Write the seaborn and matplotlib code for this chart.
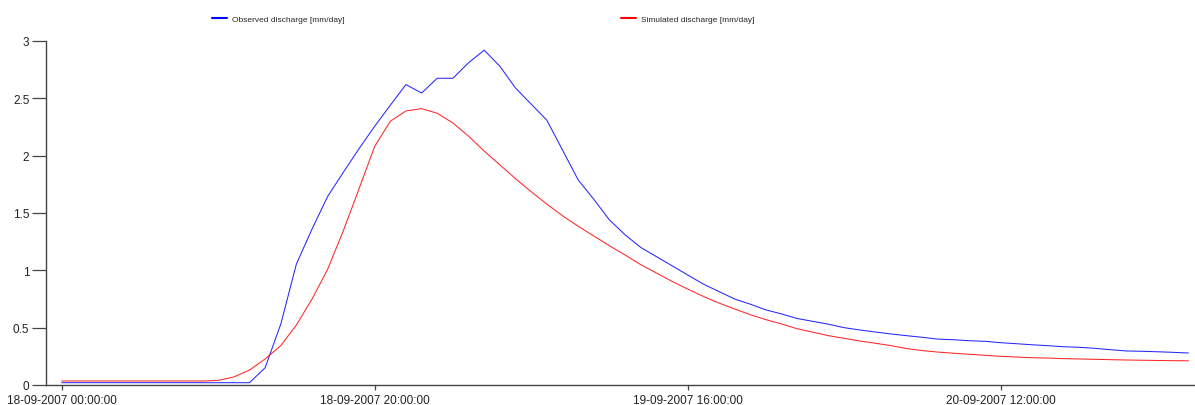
import numpy as np
import pandas as pd
import matplotlib
matplotlib.use("Agg")
import matplotlib.pyplot as plt
import matplotlib.dates as mdates
import seaborn as sns

# ---- data (hourly, 18-09-2007 00:00 .. 21-09-2007 00:00) ----
start_time = "2007-09-18 00:00:00"
observed = [0.02] * 13 + [
    0.15, 0.53, 1.055, 1.36, 1.645, 1.855, 2.06, 2.256, 2.44, 2.62,
    2.546, 2.675, 2.675, 2.81, 2.92, 2.78, 2.59, 2.45, 2.31, 2.05,
    1.79, 1.62, 1.44, 1.31, 1.20, 1.12, 1.04, 0.96, 0.88, 0.815,
    0.75, 0.705, 0.655, 0.62, 0.58, 0.555, 0.53, 0.50, 0.48, 0.462,
    0.445, 0.43, 0.416, 0.40, 0.395, 0.386, 0.381, 0.369, 0.36, 0.351,
    0.343, 0.334, 0.329, 0.32, 0.308, 0.297, 0.294, 0.29, 0.285, 0.279,
]
simulated = [0.035] * 10 + [
    0.04, 0.07, 0.13, 0.227, 0.343, 0.523, 0.75, 1.01, 1.346, 1.71,
    2.08, 2.30, 2.39, 2.41, 2.37, 2.285, 2.17, 2.04, 1.92, 1.80,
    1.686, 1.578, 1.476, 1.385, 1.30, 1.215, 1.134, 1.05, 0.977, 0.904,
    0.837, 0.773, 0.715, 0.663, 0.613, 0.57, 0.532, 0.491, 0.46, 0.43,
    0.407, 0.384, 0.364, 0.343, 0.318, 0.30, 0.287, 0.277, 0.268, 0.259,
    0.25, 0.244, 0.238, 0.235, 0.23, 0.227, 0.224, 0.221, 0.218, 0.216,
    0.214, 0.212, 0.211,
]
series_names = ["Observed discharge [mm/day]", "Simulated discharge [mm/day]"]
series_colors = ["#0000FF", "#FF0000"]
x_tick_labels = ["18-09-2007 00:00:00", "18-09-2007 20:00:00",
                 "19-09-2007 16:00:00", "20-09-2007 12:00:00"]
y_ticks = [0, 0.5, 1, 1.5, 2, 2.5, 3]
y_tick_labels = ["0", "0.5", "1", "1.5", "2", "2.5", "3"]

times = pd.date_range(start_time, periods=len(observed), freq="h")
df = pd.DataFrame({"time": times, "obs": observed, "sim": simulated})

sns.set_style("white")
plt.rcParams["font.family"] = ["Liberation Sans", "DejaVu Sans"]

W, H = 1195, 406
fig = plt.figure(figsize=(W / 100, H / 100), dpi=100)
ax = fig.add_axes([46 / W, 20 / H, (W - 46) / W, 344 / H])

sns.lineplot(data=df, x="time", y="obs", color=series_colors[0], lw=0.75,
             alpha=0.85, ax=ax, legend=False)
sns.lineplot(data=df, x="time", y="sim", color=series_colors[1], lw=0.75,
             alpha=0.85, ax=ax, legend=False)

t0 = pd.Timestamp(start_time)
ax.set_xlim(t0 - pd.Timedelta(hours=1.0), t0 + pd.Timedelta(hours=72.42))
ax.set_ylim(0, 3)
ax.set_xlabel("")
ax.set_ylabel("")

ax.set_xticks([pd.to_datetime(s, format="%d-%m-%Y %H:%M:%S") for s in x_tick_labels])
ax.set_xticklabels(x_tick_labels)
ax.set_yticks(y_ticks)
ax.set_yticklabels(y_tick_labels)

for s in ["top", "right"]:
    ax.spines[s].set_visible(False)
for s in ["left", "bottom"]:
    ax.spines[s].set_color("#444444")
    ax.spines[s].set_linewidth(1.0)

ax.tick_params(axis="y", length=10, width=0.9, color="#444444", pad=2,
               labelsize=8.5, labelcolor="#222222", left=True)
ax.tick_params(axis="x", length=3.6, width=0.9, color="#444444", pad=3,
               labelsize=8.5, labelcolor="#222222", bottom=True)

legend_x = [211.7, 621.0]
for i, (name, col) in enumerate(zip(series_names, series_colors)):
    h = plt.Line2D([], [], color=col, lw=1.5)
    fig.legend([h], [name], loc="center left",
               bbox_to_anchor=(legend_x[i] / W, 1 - 20.3 / H),
               frameon=False, fontsize=6, borderpad=0, borderaxespad=0,
               handlelength=1.8, handletextpad=0.6)

fig.savefig("out.png", dpi=100)
